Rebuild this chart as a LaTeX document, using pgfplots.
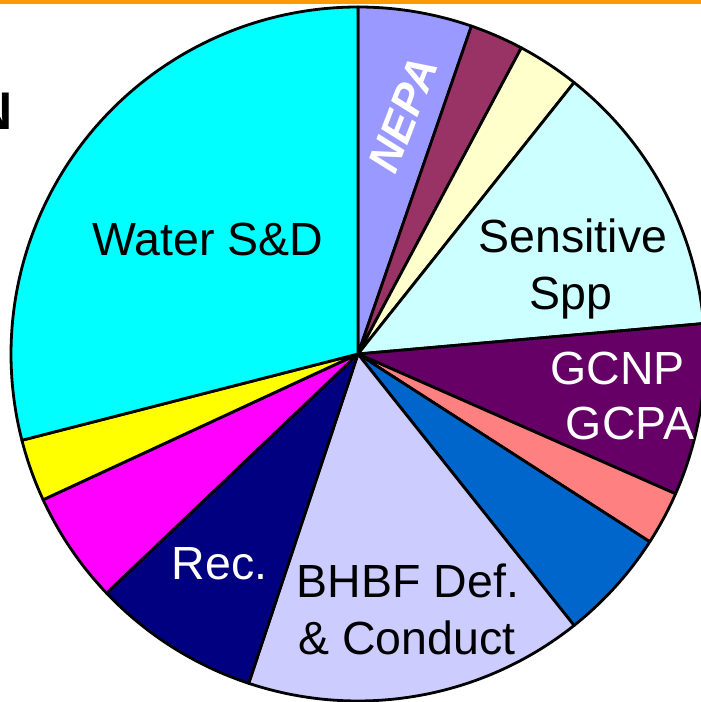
\documentclass[border=0pt]{standalone}
\usepackage{pgfplots}
\pgfplotsset{compat=1.18}
\usepackage{pgfplotstable}
\usepackage{fontspec}
\setmainfont{Liberation Sans}
\definecolor{cNEPA}{HTML}{9999FF}
\definecolor{cMaroon}{HTML}{993366}
\definecolor{cLtYellow}{HTML}{FFFFCC}
\definecolor{cSens}{HTML}{CCFFFF}
\definecolor{cGCNP}{HTML}{660066}
\definecolor{cSalmon}{HTML}{FF8080}
\definecolor{cBlue}{HTML}{0066CC}
\definecolor{cBHBF}{HTML}{CCCCFF}
\definecolor{cRec}{HTML}{000080}
\definecolor{cMagenta}{HTML}{FF00FF}
\definecolor{cYellow}{HTML}{FFFF00}
\definecolor{cWater}{HTML}{00FFFF}
\definecolor{cOrange}{HTML}{FF9900}
% share of each slice in percent, clockwise from 12 o'clock
\pgfplotstableread{
name value col
NEPA 5.3 cNEPA
Maroon 2.5 cMaroon
LtYellow 2.9 cLtYellow
Sensitive 12.9 cSens
GCNP 8.0 cGCNP
Salmon 2.5 cSalmon
Blue 5.2 cBlue
BHBF 15.8 cBHBF
Rec 7.8 cRec
Magenta 5.2 cMagenta
Yellow 2.9 cYellow
Water 29.0 cWater
}\pietable
\newcommand\lbl{\fontsize{23.25pt}{28pt}\selectfont}
\begin{document}
\begin{tikzpicture}
\useasboundingbox (0,0) rectangle (350.5pt,351pt);
\clip (0,0) rectangle (350.5pt,351pt);
\begin{axis}[hide axis, x=0.5pt, y=0.5pt, xmin=0, xmax=701, ymin=0, ymax=702,
  at={(0,0)}, anchor=origin, clip=false]
\gdef\ang{90}
\pgfplotsforeachungrouped \i in {0,...,11}{%
  \pgfplotstablegetelem{\i}{value}\of\pietable \let\v\pgfplotsretval
  \pgfplotstablegetelem{\i}{col}\of\pietable \let\c\pgfplotsretval
  \pgfmathsetmacro\endang{\ang-3.6*\v}%
  \edef\temp{\noexpand\filldraw[fill=\c,draw=black,line width=1.4pt,line join=round]
    (axis cs:358,348) -- ++(\ang:173.5pt) arc[start angle=\ang,end angle=\endang,radius=173.5pt] -- cycle;}%
  \temp
  \global\let\ang\endang
}
% top border
\fill[cOrange] (axis cs:0,699.3) rectangle (axis cs:701,702);
\fill[gray!70] (axis cs:0,698) rectangle (axis cs:701,699.3);
% labels
\node[anchor=base east, inner sep=0pt, font=\fontsize{26.5pt}{30pt}\selectfont\bfseries] at (axis cs:13,572) {N};
\node[anchor=base, font=\lbl] at (axis cs:208,446) {Water S\&D};
\node[anchor=base, font=\lbl] at (axis cs:573,449) {Sensitive};
\node[anchor=base, font=\lbl] at (axis cs:571,392) {Spp};
\node[anchor=base, font=\lbl, text=white] at (axis cs:617.5,317) {GCNP};
\node[anchor=base, font=\lbl, text=white] at (axis cs:630,262) {GCPA};
\node[anchor=base, font=\lbl, text=white] at (axis cs:219.5,122) {Rec.};
\node[anchor=base, font=\lbl] at (axis cs:408,104) {BHBF Def.};
\node[anchor=base, font=\lbl] at (axis cs:407,47) {\& Conduct};
\node[rotate=69, inner sep=0pt, font=\fontsize{22pt}{24pt}\selectfont\bfseries\itshape, text=white] at (axis cs:403,587) {NEPA};
\end{axis}
\end{tikzpicture}
\end{document}
